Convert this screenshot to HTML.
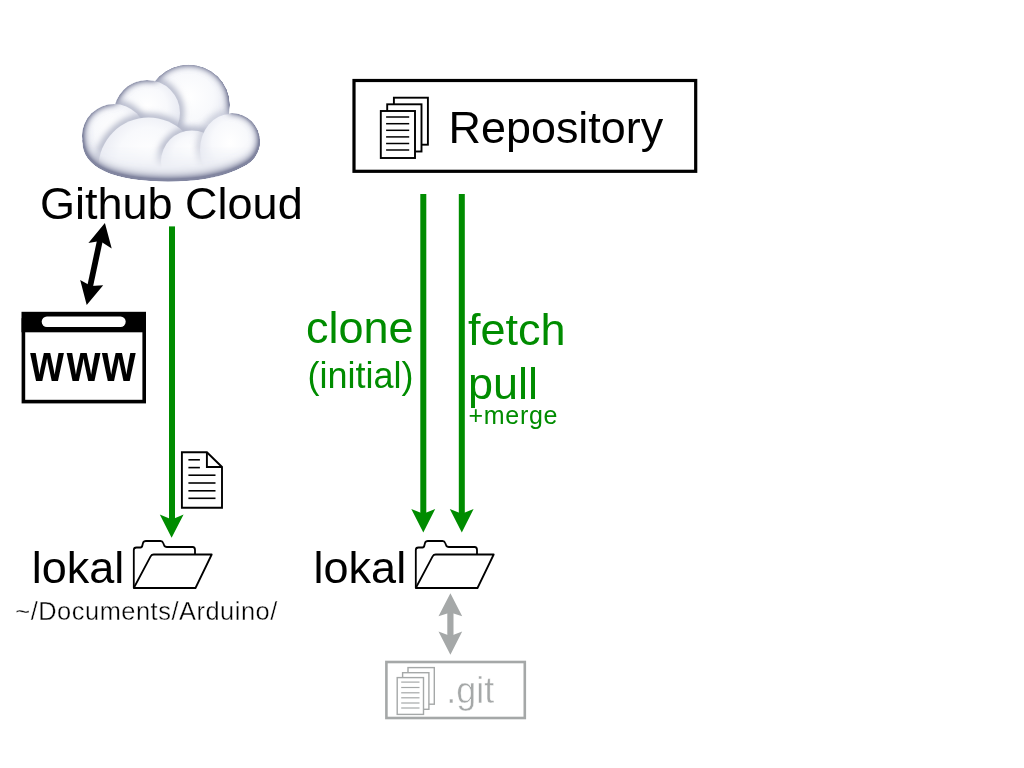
<!DOCTYPE html>
<html><head><meta charset="utf-8">
<style>
html,body{margin:0;padding:0;background:#fff;width:1024px;height:768px;overflow:hidden}
svg{position:absolute;left:0;top:0;will-change:transform}
text{font-family:"Liberation Sans",sans-serif}
</style></head>
<body>
<svg width="1024" height="768" viewBox="0 0 1024 768">
<defs>
  <radialGradient id="cg" cx="50%" cy="45%" r="55%">
    <stop offset="0" stop-color="#ffffff"/>
    <stop offset="0.6" stop-color="#f4f5fa"/>
    <stop offset="0.85" stop-color="#d3d6e2"/>
    <stop offset="1" stop-color="#9ea2b6"/>
  </radialGradient>
</defs>
<!-- cloud -->
<defs>
  <radialGradient id="bump" cx="50%" cy="40%" r="60%">
    <stop offset="0" stop-color="#ffffff"/>
    <stop offset="0.5" stop-color="#f8f9fc"/>
    <stop offset="0.82" stop-color="#e9ebf3"/>
    <stop offset="1" stop-color="#d6d9e5"/>
  </radialGradient>
  <clipPath id="silclip">
    <ellipse cx="188.5" cy="105" rx="41.5" ry="40.5"/>
    <circle cx="147" cy="113" r="33"/>
    <circle cx="114" cy="136" r="32"/>
    <circle cx="232" cy="141" r="28"/>
    <path d="M82.5,140 C81,168 115,181.5 168,181.5 C222,181.5 262,166 259.8,140 C245,110 110,110 82.5,140 Z"/>
  </clipPath>
  <linearGradient id="bmg" gradientUnits="userSpaceOnUse" x1="0" y1="146" x2="0" y2="168">
    <stop offset="0" stop-color="#000"/><stop offset="1" stop-color="#fff"/>
  </linearGradient>
  <mask id="bodymask" maskUnits="userSpaceOnUse" x="60" y="50" width="220" height="140">
    <rect x="60" y="50" width="220" height="140" fill="url(#bmg)"/>
  </mask>
  <filter id="soft" x="-20%" y="-20%" width="140%" height="140%">
    <feGaussianBlur stdDeviation="3.2"/>
  </filter>
  <filter id="rim" x="-10%" y="-10%" width="120%" height="120%">
    <feGaussianBlur in="SourceAlpha" stdDeviation="3.5" result="b"/>
    <feComposite in="SourceAlpha" in2="b" operator="arithmetic" k2="1" k3="-1" result="e"/>
    <feOffset in="SourceAlpha" dy="-5" result="o"/>
    <feGaussianBlur in="o" stdDeviation="5" result="ob"/>
    <feComposite in="SourceAlpha" in2="ob" operator="arithmetic" k2="1" k3="-1" result="e2"/>
    <feComposite in="e" in2="e2" operator="arithmetic" k2="1.5" k3="0.9" result="ee"/>
    <feFlood flood-color="#8286a0"/>
    <feComposite in2="ee" operator="in"/>
  </filter>
</defs>
<g clip-path="url(#silclip)">
  <path d="M82.5,140 C81,168 115,181.5 168,181.5 C222,181.5 262,166 259.8,140 C245,110 110,110 82.5,140 Z" fill="#eceef4"/>
  <ellipse cx="188.5" cy="105" rx="41.5" ry="40.5" fill="url(#bump)"/>
  <circle cx="147" cy="113" r="33" fill="none" stroke="#b3b7c9" stroke-width="8" filter="url(#soft)"/>
  <circle cx="147" cy="113" r="33" fill="url(#bump)"/>
  <circle cx="114" cy="136" r="32" fill="none" stroke="#b3b7c9" stroke-width="8" filter="url(#soft)"/>
  <circle cx="114" cy="136" r="32" fill="url(#bump)"/>
  <circle cx="148.5" cy="167.5" r="50" fill="none" stroke="#b3b7c9" stroke-width="8" filter="url(#soft)"/>
  <circle cx="148.5" cy="167.5" r="50" fill="url(#bump)"/>
  <circle cx="192" cy="161.5" r="31" fill="none" stroke="#b3b7c9" stroke-width="8" filter="url(#soft)"/>
  <circle cx="192" cy="161.5" r="31" fill="url(#bump)"/>
  <ellipse cx="230" cy="150" rx="30" ry="36" fill="none" stroke="#b3b7c9" stroke-width="8" filter="url(#soft)" opacity="0.6"/>
  <ellipse cx="230" cy="150" rx="30" ry="36" fill="url(#bump)"/>
  <path d="M82.5,140 C81,168 115,181.5 168,181.5 C222,181.5 262,166 259.8,140 C245,110 110,110 82.5,140 Z" fill="#eef0f6" mask="url(#bodymask)"/>
</g>
<g filter="url(#rim)" fill="#000">
    <ellipse cx="188.5" cy="105" rx="41.5" ry="40.5"/>
    <circle cx="147" cy="113" r="33"/>
    <circle cx="114" cy="136" r="32"/>
    <circle cx="232" cy="141" r="28"/>
    <path d="M82.5,140 C81,168 115,181.5 168,181.5 C222,181.5 262,166 259.8,140 C245,110 110,110 82.5,140 Z"/>
</g>
<text x="40" y="219" font-size="45" fill="#000">Github Cloud</text>

<!-- black double arrow -->
<g fill="#000">
  <line x1="100" y1="240" x2="90" y2="287" stroke="#000" stroke-width="5.8"/>
  <polygon points="104.9,223.1 111.7,248.6 100,241 88.4,243"/>
  <polygon points="86.7,305 80.2,280 91,286 103.2,285.3"/>
</g>

<!-- www -->
<rect x="21.5" y="311.8" width="124.5" height="20.5" fill="#000"/>
<rect x="23.4" y="320" width="120.8" height="81.6" fill="none" stroke="#000" stroke-width="3.6"/>
<rect x="41.7" y="316.6" width="84" height="10.3" rx="5.15" fill="#fff"/>
<g font-size="47" font-weight="bold">
  <text transform="translate(30.2,381) scale(0.92,1.16)">w</text>
  <text transform="translate(66.8,381) scale(0.92,1.16)">w</text>
  <text transform="translate(102.0,381) scale(0.92,1.16)">w</text>
</g>

<!-- green left -->
<g fill="#008c00">
  <rect x="169" y="226.4" width="6" height="294"/>
  <polygon points="159.8,514.5 171.8,519.4 183.6,514.5 171.6,537.7"/>
  <rect x="420.3" y="194" width="6" height="322"/>
  <polygon points="411.3,509.1 423.3,513.8 435.2,509.1 423.3,532.6"/>
  <rect x="458.8" y="194" width="6" height="322"/>
  <polygon points="449.8,509.1 461.8,513.8 473.6,509.1 461.8,532.6"/>
</g>

<!-- doc -->
<g fill="none" stroke="#000" stroke-width="1.9">
  <path d="M181.9,452.2 H206.9 L222,467 V507.7 H181.9 Z"/>
  <path d="M206.9,452.2 V467 H222"/>
</g>
<g stroke="#000" stroke-width="1.6">
  <line x1="188.4" y1="459.8" x2="199.9" y2="459.8"/>
  <line x1="188.4" y1="467.6" x2="199.9" y2="467.6"/>
  <line x1="188.4" y1="475.2" x2="215.5" y2="475.2"/>
  <line x1="188.4" y1="483" x2="215.5" y2="483"/>
  <line x1="188.4" y1="490.8" x2="215.5" y2="490.8"/>
  <line x1="188.4" y1="498.3" x2="215.5" y2="498.3"/>
</g>

<!-- folder left -->
<g id="folder" fill="none" stroke="#000" stroke-width="1.8" stroke-linejoin="round">
  <path d="M133.8,588 V550 Q133.8,547.5 136.5,547.5 H140.5 Q142,547.5 142.5,545 L143,543 Q143.6,541 146,541 H160.5 Q162.5,541 163.2,543 L164,545 Q164.6,547 167,547 H192.6 Q195,547 195,550 V554.5"/>
  <path d="M133.8,588 L150.6,556.3 Q151.6,554.5 153.8,554.5 H211.7 L195.5,588 Z"/>
</g>
<use href="#folder" x="282" y="0"/>

<text x="31.8" y="583" font-size="45">lokal</text>
<text x="313.6" y="583" font-size="45">lokal</text>
<text x="15.3" y="620" font-size="25.4" textLength="262" lengthAdjust="spacing" stroke="#fff" stroke-width="0.35">~/Documents/Arduino/</text>

<!-- repository -->
<rect x="354" y="80.5" width="341.7" height="90.8" fill="none" stroke="#000" stroke-width="3.2"/>
<g fill="#fff" stroke="#000" stroke-width="1.9">
  <rect x="393.9" y="97.7" width="34" height="47"/>
  <rect x="387.2" y="104.3" width="34.3" height="47.2"/>
  <rect x="380.8" y="111" width="34.2" height="47"/>
</g>
<g stroke="#000" stroke-width="1.5">
  <line x1="386.1" y1="117" x2="409.2" y2="117"/>
  <line x1="386.1" y1="123.7" x2="409.2" y2="123.7"/>
  <line x1="386.1" y1="130.3" x2="409.2" y2="130.3"/>
  <line x1="386.1" y1="136.9" x2="409.2" y2="136.9"/>
  <line x1="386.1" y1="143.5" x2="409.2" y2="143.5"/>
  <line x1="386.1" y1="150" x2="409.2" y2="150"/>
</g>
<text x="448.6" y="143" font-size="44.9">Repository</text>

<!-- green labels -->
<g fill="#008c00">
  <text x="306" y="343" font-size="45">clone</text>
  <text x="307.5" y="388" font-size="36">(initial)</text>
  <text x="468" y="345" font-size="45">fetch</text>
  <text x="468" y="399" font-size="45">pull</text>
  <text x="468.5" y="424" font-size="25" textLength="89" lengthAdjust="spacing">+merge</text>
</g>

<!-- gray arrow -->
<g fill="#a5a8a8">
  <rect x="447.3" y="610" width="6.2" height="28"/>
  <polygon points="450.4,593.3 462.2,616.25 450.4,612.6 438.5,616.25"/>
  <polygon points="450.4,654.8 462.2,631.4 450.4,636 438.5,631.4"/>
</g>

<!-- .git -->
<rect x="386.4" y="662" width="138.4" height="56" fill="none" stroke="#a5a8a8" stroke-width="2.6"/>
<g fill="#fff" stroke="#a5a8a8" stroke-width="1.4">
  <rect x="408" y="667.6" width="26.3" height="36.6"/>
  <rect x="402.6" y="672.7" width="26.3" height="36.6"/>
  <rect x="397.2" y="677.6" width="26.3" height="36.8"/>
</g>
<g stroke="#a5a8a8" stroke-width="1.2">
  <line x1="401.2" y1="682.1" x2="419.5" y2="682.1"/>
  <line x1="401.2" y1="687.5" x2="419.5" y2="687.5"/>
  <line x1="401.2" y1="692.8" x2="419.5" y2="692.8"/>
  <line x1="401.2" y1="697.8" x2="419.5" y2="697.8"/>
  <line x1="401.2" y1="703" x2="419.5" y2="703"/>
  <line x1="401.2" y1="708" x2="419.5" y2="708"/>
</g>
<text x="446.3" y="702.6" font-size="36" fill="#a5a8a8" stroke="#fff" stroke-width="0.5">.git</text>
</svg>
</body></html>
